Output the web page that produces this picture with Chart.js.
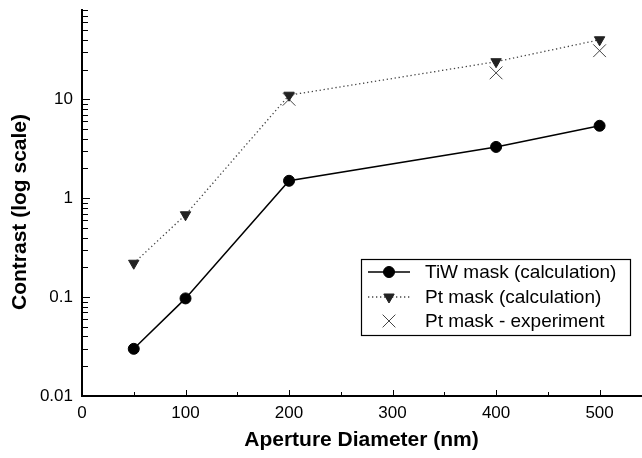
<!DOCTYPE html>
<html>
<head>
<meta charset="utf-8">
<script src="https://cdn.jsdelivr.net/npm/chart.js@4.4.1/dist/chart.umd.min.js"></script>
<style>
html,body{margin:0;padding:0;background:#fff;}
#wrap{width:642px;height:458px;position:relative;}
</style>
</head>
<body>
<div id="wrap"><canvas id="c" width="642" height="458"></canvas></div>
<script>
// ---- data ----
const apertures = [50, 100, 200, 400, 500];
const tiwCalc = [0.030, 0.097, 1.5, 3.3, 5.4];
const ptCalc = [0.22, 0.68, 11, 24, 40];
const expApertures = [200, 400, 500];
const ptExperiment = [10, 18.5, 31];
const xTickValues = [0, 100, 200, 300, 400, 500];
const yTickValues = [0.01, 0.1, 1, 10];
const yTickLabels = ['0.01', '0.1', '1', '10'];
const seriesNames = ['TiW mask (calculation)', 'Pt mask (calculation)', 'Pt mask - experiment'];
const xTitle = 'Aperture Diameter (nm)';
const yTitle = 'Contrast (log scale)';

const FONT = '"Liberation Sans", Arial, Helvetica, sans-serif';

const toPts = (xs, ys) => xs.map((x, i) => ({x: x, y: ys[i]}));

const decorPlugin = {
  id: 'decor',
  afterDraw(chart) {
    const ctx = chart.ctx;
    const ca = chart.chartArea;
    const xs = chart.scales.x, ys = chart.scales.y;
    ctx.save();
    ctx.strokeStyle = '#000';
    ctx.lineWidth = 1;
    // y ticks inside (major & minor)
    for (let d = -2; d <= 1; d++) {
      for (let m = 1; m <= 9; m++) {
        const v = m * Math.pow(10, d);
        if (v < ys.min || v > ys.max) continue;
        const py = Math.round(ys.getPixelForValue(v)) + 0.5;
        const len = m === 1 ? 8 : 6;
        ctx.beginPath();
        ctx.moveTo(ca.left, py);
        ctx.lineTo(ca.left + len, py);
        ctx.stroke();
      }
    }
    // x ticks inside
    for (let v = 50; v <= xs.max; v += 50) {
      const px = Math.round(xs.getPixelForValue(v)) + 0.5;
      const len = v % 100 === 0 ? 6 : 4;
      ctx.beginPath();
      ctx.moveTo(px, ca.bottom);
      ctx.lineTo(px, ca.bottom - len);
      ctx.stroke();
    }
    // axis titles
    ctx.fillStyle = '#000';
    ctx.font = 'bold 21px ' + FONT;
    ctx.textAlign = 'center';
    ctx.textBaseline = 'middle';
    ctx.fillText(xTitle, (ca.left + ca.right) / 2, 440);
    ctx.save();
    ctx.translate(20, 212);
    ctx.rotate(-Math.PI / 2);
    ctx.fillText(yTitle, 0, 0);
    ctx.restore();

    // legend
    const bx = 361, by = 259, bw = 269, bh = 76;
    ctx.fillStyle = '#fff';
    ctx.fillRect(bx, by, bw, bh);
    ctx.strokeStyle = '#000';
    ctx.lineWidth = 1.2;
    ctx.strokeRect(bx + 0.5, by + 0.5, bw, bh);
    const rows = [272, 297, 321];
    const ds = chart.data.datasets;
    ctx.font = '19px ' + FONT;
    ctx.textAlign = 'left';
    ctx.textBaseline = 'middle';
    rows.forEach((ry, i) => {
      const d = ds[i];
      if (d.showLine !== false) {
        ctx.save();
        ctx.strokeStyle = d.borderColor;
        ctx.lineWidth = d.borderWidth;
        ctx.setLineDash(d.borderDash || []);
        ctx.beginPath();
        ctx.moveTo(368, ry);
        ctx.lineTo(410, ry);
        ctx.stroke();
        ctx.restore();
      }
      ctx.save();
      ctx.fillStyle = d.pointBackgroundColor;
      ctx.strokeStyle = d.pointBorderColor;
      ctx.lineWidth = d.pointBorderWidth;
      Chart.helpers.drawPoint(ctx, {pointStyle: d.pointStyle, rotation: d.pointRotation || 0, radius: d.pointRadius, borderWidth: d.pointBorderWidth}, 389, ry);
      ctx.restore();
      ctx.fillStyle = '#000';
      ctx.fillText(seriesNames[i], 425, ry + 1);
    });
    ctx.restore();
  }
};

new Chart(document.getElementById('c'), {
  type: 'line',
  data: {
    datasets: [
      {
        label: seriesNames[0],
        data: toPts(apertures, tiwCalc),
        borderColor: '#000',
        borderWidth: 1.5,
        pointStyle: 'circle',
        pointRadius: 5.5,
        pointBackgroundColor: '#000',
        pointBorderColor: '#000',
        pointBorderWidth: 1,
        tension: 0
      },
      {
        label: seriesNames[1],
        data: toPts(apertures, ptCalc),
        borderColor: '#444',
        borderWidth: 1.3,
        borderDash: [1.3, 2.7],
        pointStyle: 'triangle',
        pointRotation: 180,
        pointRadius: 6,
        pointBackgroundColor: '#222',
        pointBorderColor: '#222',
        pointBorderWidth: 1,
        tension: 0
      },
      {
        label: seriesNames[2],
        data: toPts(expApertures, ptExperiment),
        showLine: false,
        borderColor: '#444',
        borderWidth: 1,
        pointStyle: 'crossRot',
        pointRadius: 9,
        pointBackgroundColor: '#444',
        pointBorderColor: '#444',
        pointBorderWidth: 1
      }
    ]
  },
  options: {
    responsive: false,
    animation: false,
    events: [],
    layout: {autoPadding: false, padding: {top: 10, right: 1, left: 0, bottom: 0}},
    plugins: {legend: {display: false}, tooltip: {enabled: false}, title: {display: false}},
    scales: {
      x: {
        type: 'linear',
        min: 0,
        max: 540,
        afterBuildTicks: (s) => { s.ticks = xTickValues.map(v => ({value: v})); },
        afterFit: (s) => { s.height = 62; s.paddingRight = 0; s.paddingLeft = 0; },
        grid: {display: false, drawTicks: false},
        border: {display: true, color: '#000', width: 2},
        ticks: {
          color: '#000',
          font: {family: FONT, size: 17},
          padding: 7,
          maxRotation: 0,
          callback: (v) => String(v)
        }
      },
      y: {
        type: 'logarithmic',
        min: 0.01,
        max: 80,
        afterBuildTicks: (s) => { s.ticks = yTickValues.map(v => ({value: v})); },
        afterFit: (s) => { s.width = 82; s.paddingTop = 0; s.paddingBottom = 0; },
        grid: {display: false, drawTicks: false},
        border: {display: true, color: '#000', width: 2},
        ticks: {
          color: '#000',
          font: {family: FONT, size: 17},
          padding: 9,
          callback: (v) => { const i = yTickValues.indexOf(v); return i >= 0 ? yTickLabels[i] : ''; }
        }
      }
    }
  },
  plugins: [decorPlugin]
});
</script>
</body>
</html>
